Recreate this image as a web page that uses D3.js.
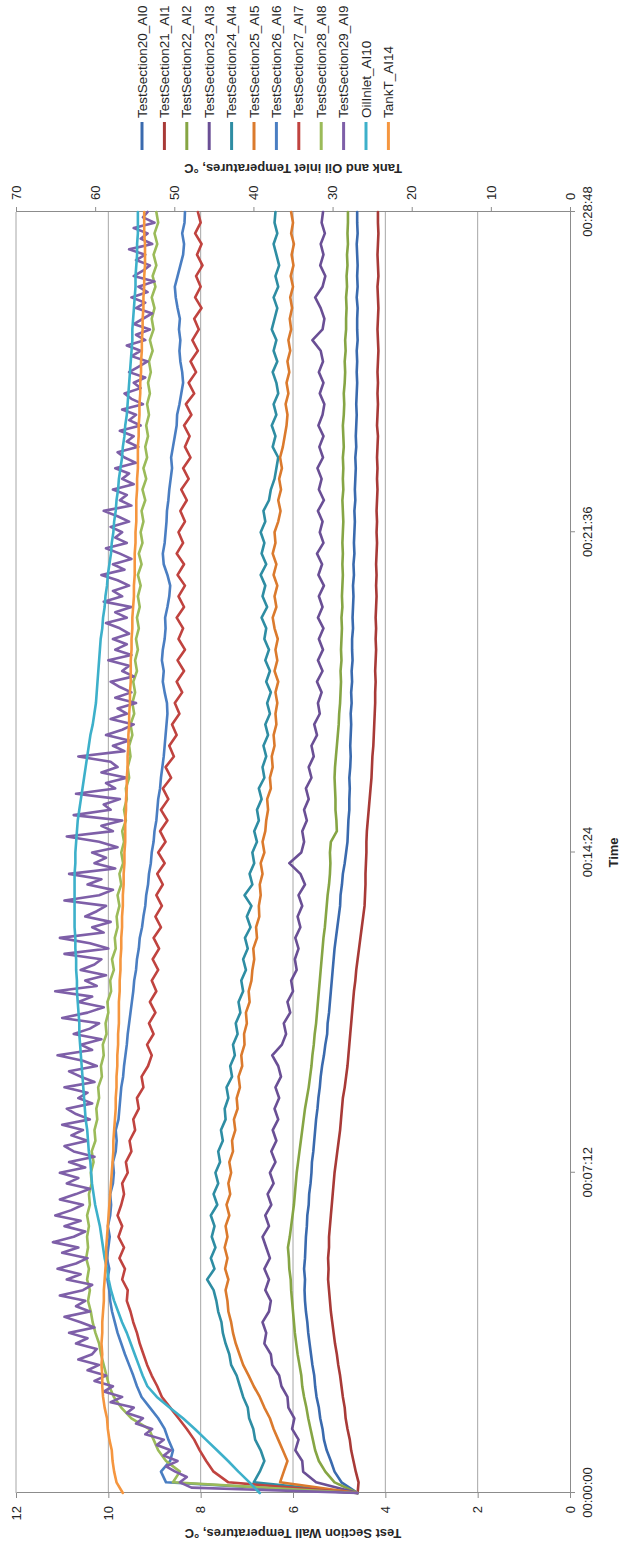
<!DOCTYPE html>
<html>
<head>
<meta charset="utf-8">
<script src="https://cdn.jsdelivr.net/npm/d3@7"></script>
<style>
  body { margin: 0; background: #fff; }
  svg { display: block; }
  text { font-family: "Liberation Sans", Arial, sans-serif; fill: #262626; }
</style>
</head>
<body>
<svg id="chart" width="626" height="1552"></svg>
<script>
// Most channels logged every 14.4 s; TestSection29 every 7.2 s. Run spans 00:00:00 - 00:28:48
const sampleStep = 14.4;
const sampleStepFine = 7.2;
const timeTicks = [0, 432, 864, 1296, 1728];
const timeTickLabels = ["00:00:00", "00:07:12", "00:14:24", "00:21:36", "00:28:48"];
const wallTicks = [0, 2, 4, 6, 8, 10, 12];
const tankTicks = [0, 10, 20, 30, 40, 50, 60, 70];

const seriesNames = ["TestSection20_AI0", "TestSection21_AI1", "TestSection22_AI2", "TestSection23_AI3",
  "TestSection24_AI4", "TestSection25_AI5", "TestSection26_AI6", "TestSection27_AI7",
  "TestSection28_AI8", "TestSection29_AI9", "OilInlet_AI10", "TankT_AI14"];
const seriesColors = ["#3A6AAE", "#A83A37", "#86A544", "#6A4F95", "#2E8DA3", "#DB7A2D",
  "#4A7EC2", "#C0433F", "#9BBB59", "#7E5FA8", "#3DB0CA", "#F5963F"];
// 0 = wall temperature axis, 1 = tank / oil inlet axis
const seriesAxis = [0, 0, 0, 0, 0, 0, 0, 0, 0, 0, 1, 1];
const seriesStep = [sampleStep, sampleStep, sampleStep, sampleStep, sampleStep, sampleStep,
  sampleStep, sampleStep, sampleStep, sampleStepFine, sampleStep, sampleStep];

const ts20_AI0 = [4.60,4.95,5.10,5.18,5.27,5.33,5.36,5.41,5.44,5.49,
  5.52,5.54,5.58,5.61,5.64,5.67,5.69,5.72,5.74,5.75,
  5.74,5.76,5.74,5.73,5.72,5.70,5.69,5.66,5.65,5.62,
  5.60,5.59,5.56,5.54,5.52,5.50,5.47,5.45,5.42,5.40,
  5.37,5.33,5.30,5.26,5.25,5.22,5.20,5.18,5.16,5.14,
  5.12,5.10,5.07,5.04,5.01,4.98,4.97,4.94,4.92,4.88,
  4.85,4.82,4.81,4.80,4.78,4.78,4.77,4.78,4.76,4.75,
  4.76,4.75,4.74,4.75,4.73,4.74,4.72,4.73,4.71,4.72,
  4.72,4.70,4.71,4.70,4.69,4.70,4.68,4.69,4.67,4.68,
  4.67,4.66,4.67,4.65,4.66,4.65,4.64,4.65,4.63,4.64,
  4.63,4.62,4.63,4.62,4.61,4.62,4.61,4.62,4.60,4.61,
  4.61,4.60,4.62,4.60,4.61,4.60,4.61,4.62,4.60,4.61,
  4.61];
const ts21_AI1 = [4.60,4.58,4.64,4.69,4.74,4.77,4.82,4.86,4.88,4.92,
  4.95,4.98,5.02,5.05,5.09,5.12,5.15,5.18,5.20,5.22,
  5.24,5.23,5.24,5.22,5.22,5.20,5.18,5.16,5.14,5.12,
  5.10,5.07,5.04,5.01,4.98,4.96,4.94,4.92,4.88,4.85,
  4.82,4.80,4.78,4.76,4.74,4.72,4.70,4.68,4.65,4.63,
  4.60,4.57,4.54,4.51,4.48,4.45,4.44,4.43,4.43,4.42,
  4.41,4.41,4.40,4.38,4.36,4.34,4.32,4.30,4.29,4.28,
  4.26,4.25,4.24,4.23,4.22,4.22,4.21,4.22,4.21,4.20,
  4.21,4.20,4.21,4.20,4.19,4.20,4.19,4.20,4.19,4.18,
  4.19,4.18,4.19,4.18,4.17,4.18,4.17,4.18,4.17,4.16,
  4.18,4.17,4.16,4.17,4.16,4.17,4.16,4.15,4.16,4.17,
  4.16,4.15,4.16,4.17,4.15,4.16,4.17,4.16,4.15,4.16,
  4.16];
const ts22_AI2 = [4.60,5.10,5.30,5.44,5.52,5.57,5.62,5.67,5.71,5.76,
  5.80,5.82,5.86,5.90,5.93,5.96,5.98,6.00,6.02,6.04,
  6.05,6.08,6.09,6.11,6.07,6.04,6.01,5.98,5.96,5.94,
  5.92,5.89,5.86,5.83,5.80,5.77,5.74,5.70,5.66,5.63,
  5.60,5.58,5.55,5.53,5.50,5.48,5.46,5.44,5.42,5.40,
  5.38,5.36,5.34,5.31,5.29,5.27,5.25,5.22,5.20,5.19,
  5.20,5.18,5.05,5.06,5.08,5.08,5.09,5.10,5.09,5.07,
  5.05,5.03,5.01,5.00,4.98,4.97,4.96,4.97,4.95,4.96,
  4.95,4.94,4.95,4.93,4.94,4.93,4.92,4.93,4.92,4.93,
  4.92,4.91,4.92,4.93,4.91,4.92,4.91,4.92,4.90,4.91,
  4.92,4.90,4.89,4.90,4.88,4.87,4.88,4.86,4.87,4.85,
  4.85,4.84,4.85,4.83,4.84,4.82,4.83,4.81,4.82,4.81,
  4.81];
const ts23_AI3 = [4.60,5.50,5.78,5.80,5.95,5.88,6.02,5.97,6.10,6.12,
  6.25,6.30,6.45,6.48,6.62,6.58,6.66,6.52,6.48,6.60,
  6.52,6.62,6.50,6.58,6.66,6.52,6.60,6.47,6.55,6.42,
  6.50,6.38,6.47,6.36,6.44,6.32,6.40,6.30,6.38,6.26,
  6.32,6.45,6.24,6.15,6.20,6.06,6.12,6.00,6.04,5.92,
  5.96,5.88,5.95,5.84,5.90,5.80,5.88,5.74,5.84,6.08,
  5.82,5.76,5.80,5.70,5.76,5.66,5.72,5.60,5.66,5.55,
  5.60,5.48,5.54,5.42,5.46,5.38,5.48,5.36,5.46,5.35,
  5.44,5.34,5.46,5.36,5.44,5.33,5.45,5.37,5.48,5.34,
  5.42,5.36,5.46,5.33,5.44,5.38,5.47,5.35,5.43,5.34,
  5.45,5.36,5.32,5.42,5.34,5.44,5.35,5.40,5.58,5.36,
  5.32,5.40,5.52,5.36,5.30,5.41,5.34,5.40,5.31,5.38,
  5.35];
const ts24_AI4 = [4.60,6.85,6.72,6.62,6.70,6.82,6.86,6.95,6.98,7.08,
  7.15,7.22,7.34,7.38,7.46,7.52,7.55,7.62,7.66,7.72,
  7.86,7.70,7.78,7.68,7.76,7.70,7.78,7.64,7.72,7.62,
  7.68,7.58,7.62,7.52,7.56,7.46,7.48,7.40,7.44,7.32,
  7.36,7.26,7.30,7.20,7.24,7.14,7.18,7.08,7.12,7.02,
  7.08,6.98,7.04,6.92,7.00,6.90,7.05,6.88,6.94,6.84,
  6.88,6.78,6.84,6.74,6.78,6.68,6.74,6.62,6.66,6.58,
  6.64,6.54,6.60,6.50,6.56,6.48,6.58,6.50,6.60,6.52,
  6.62,6.58,6.68,6.56,6.66,6.60,6.70,6.58,6.68,6.62,
  6.70,6.60,6.64,6.52,6.48,6.40,6.36,6.32,6.44,6.38,
  6.46,6.36,6.42,6.32,6.36,6.44,6.34,6.42,6.36,6.46,
  6.40,6.34,6.42,6.32,6.38,6.30,6.36,6.42,6.34,6.40,
  6.38];
const ts25_AI5 = [4.60,6.28,6.20,6.12,6.22,6.32,6.42,6.50,6.62,6.72,
  6.85,6.96,7.08,7.16,7.24,7.30,7.34,7.40,7.42,7.46,
  7.40,7.47,7.42,7.48,7.42,7.46,7.38,7.44,7.36,7.40,
  7.34,7.38,7.30,7.32,7.25,7.28,7.20,7.22,7.15,7.18,
  7.10,7.12,7.05,7.06,7.00,7.02,6.94,6.96,6.90,6.88,
  6.84,6.86,6.78,6.80,6.73,6.74,6.70,6.72,6.66,6.70,
  6.62,6.66,6.60,6.58,6.54,6.56,6.48,6.50,6.44,6.46,
  6.40,6.42,6.36,6.38,6.34,6.38,6.32,6.40,6.34,6.38,
  6.33,6.40,6.44,6.36,6.40,6.34,6.42,6.36,6.44,6.38,
  6.40,6.32,6.27,6.32,6.26,6.30,6.24,6.28,6.22,6.18,
  6.14,6.12,6.16,6.10,6.14,6.08,6.12,6.06,6.10,6.04,
  6.07,6.02,6.06,6.00,6.05,5.99,6.03,5.98,6.04,6.00,
  6.04];
const ts26_AI6 = [4.60,8.75,8.86,8.66,8.60,8.70,8.78,8.92,9.10,9.28,
  9.38,9.46,9.55,9.64,9.72,9.80,9.86,9.92,9.96,9.98,
  10.02,9.98,10.03,10.00,9.97,10.01,9.96,9.94,9.96,9.90,
  9.88,9.90,9.84,9.82,9.84,9.78,9.76,9.74,9.72,9.68,
  9.66,9.63,9.60,9.58,9.55,9.52,9.49,9.46,9.44,9.40,
  9.38,9.34,9.32,9.27,9.24,9.20,9.18,9.14,9.12,9.08,
  9.06,9.02,9.00,8.96,8.94,8.92,8.88,8.86,8.83,8.80,
  8.78,8.76,8.74,8.72,8.73,8.78,8.82,8.80,8.84,8.82,
  8.78,8.76,8.77,8.72,8.68,8.66,8.72,8.80,8.82,8.78,
  8.76,8.74,8.73,8.70,8.68,8.65,8.62,8.64,8.60,8.56,
  8.52,8.51,8.46,8.42,8.38,8.40,8.44,8.46,8.44,8.47,
  8.45,8.50,8.54,8.56,8.50,8.44,8.38,8.36,8.40,8.35,
  8.34];
const ts27_AI7 = [4.60,7.40,7.72,7.88,8.02,8.14,8.30,8.48,8.66,8.84,
  8.94,9.06,9.16,9.24,9.32,9.38,9.46,9.52,9.60,9.58,
  9.70,9.64,9.76,9.66,9.78,9.70,9.80,9.72,9.66,9.70,
  9.58,9.62,9.50,9.54,9.42,9.46,9.34,9.38,9.24,9.28,
  9.14,9.06,9.16,9.02,9.12,8.98,9.10,8.96,9.06,8.92,
  9.04,8.90,9.02,8.86,8.98,8.84,8.96,8.82,8.94,8.78,
  8.92,8.76,8.88,8.72,8.86,8.70,8.82,8.64,8.76,8.58,
  8.68,8.52,8.62,8.46,8.56,8.40,8.52,8.36,8.50,8.34,
  8.48,8.38,8.52,8.36,8.48,8.34,8.50,8.36,8.52,8.38,
  8.48,8.34,8.44,8.30,8.42,8.26,8.38,8.22,8.34,8.24,
  8.36,8.20,8.32,8.14,8.26,8.10,8.22,8.06,8.18,8.04,
  8.14,7.98,8.12,8.00,8.10,7.96,8.08,7.98,8.12,8.00,
  8.06];
const ts28_AI8 = [4.60,8.60,8.45,8.75,8.92,9.02,9.12,9.50,9.72,9.88,
  9.98,10.04,10.10,10.16,10.20,10.28,10.34,10.38,10.44,10.40,
  10.46,10.42,10.48,10.44,10.46,10.42,10.46,10.40,10.42,10.36,
  10.38,10.32,10.36,10.28,10.30,10.24,10.26,10.20,10.22,10.14,
  10.16,10.10,10.12,10.04,10.06,10.00,10.02,9.94,9.96,9.88,
  9.92,9.84,9.86,9.80,9.82,9.76,9.80,9.72,9.76,9.68,
  9.72,9.66,9.70,9.62,9.66,9.60,9.62,9.55,9.58,9.52,
  9.55,9.48,9.52,9.44,9.48,9.42,9.46,9.38,9.42,9.36,
  9.40,9.34,9.38,9.32,9.36,9.30,9.36,9.28,9.34,9.26,
  9.30,9.24,9.28,9.20,9.26,9.18,9.24,9.16,9.20,9.14,
  9.18,9.12,9.16,9.10,9.14,9.08,9.12,9.04,9.10,9.02,
  9.06,9.00,9.06,8.98,9.04,8.96,9.02,8.94,9.00,8.92,
  8.96];
// 7.2 s samples
const ts29_AI9 = [4.60,8.20,8.45,8.30,8.55,8.75,8.50,8.80,8.65,8.95,
  8.80,9.20,9.05,9.40,9.25,9.60,9.45,9.95,9.70,10.10,
  9.90,10.30,10.05,10.45,10.20,10.65,10.35,10.25,10.70,10.45,
  10.85,10.30,10.60,10.95,10.40,10.70,10.50,11.05,10.55,10.35,
  10.90,10.60,11.10,10.70,10.45,11.00,10.65,11.20,10.75,10.50,
  10.95,10.60,11.15,10.80,10.55,11.05,10.70,10.40,10.90,10.65,
  11.05,10.50,10.85,10.30,10.75,10.95,10.45,10.80,10.55,11.00,
  10.40,10.70,10.90,10.35,10.65,10.45,10.95,10.30,10.60,10.85,
  10.25,10.55,11.10,10.35,10.60,10.15,10.75,10.40,10.20,11.00,
  10.45,10.10,10.65,10.35,11.15,10.25,10.50,10.05,10.60,10.30,
  10.15,10.95,10.00,10.40,11.05,10.10,10.35,9.95,10.50,10.25,
  10.05,10.95,10.20,9.90,10.45,10.15,10.85,9.85,10.30,10.05,
  10.35,9.80,10.20,10.90,9.90,10.15,9.70,10.75,9.95,10.10,
  9.75,10.70,9.85,10.05,9.60,10.15,9.80,9.95,10.65,9.65,
  9.90,9.55,10.05,9.70,9.45,9.95,9.60,9.80,9.40,9.85,
  9.50,9.75,9.95,9.45,9.70,9.55,10.00,9.50,9.85,9.60,
  9.90,9.55,9.75,10.05,9.60,9.85,9.50,10.10,9.70,9.90,
  9.55,9.80,10.15,9.65,9.90,9.50,9.75,10.05,9.60,9.85,
  9.70,9.95,9.55,9.80,10.10,9.50,9.75,9.60,9.90,9.45,
  9.70,9.55,9.85,9.40,9.65,9.80,9.35,9.60,9.45,9.75,
  9.30,9.55,9.40,9.70,9.25,9.50,9.65,9.30,9.45,9.20,
  9.55,9.35,9.15,9.50,9.30,9.60,9.20,9.40,9.10,9.45,
  9.25,9.05,9.40,9.20,9.50,9.15,9.35,9.00,9.45,9.25,
  9.10,9.40,9.20,9.55,9.05,9.30,9.15,9.45,9.00,9.25,
  9.15];
const oilInlet_AI10 = [39.2,40.5,41.9,43.2,44.6,46.0,47.4,48.9,50.6,52.2,
  53.4,54.0,54.5,55.0,55.5,56.0,56.6,57.1,57.6,58.0,
  58.3,58.5,58.8,59.0,59.2,59.4,59.7,60.0,60.2,60.4,
  60.5,60.6,60.8,60.9,61.0,61.2,61.3,61.4,61.5,61.6,
  61.7,61.8,61.9,62.0,62.0,62.1,62.2,62.3,62.3,62.4,
  62.4,62.5,62.5,62.6,62.6,62.6,62.6,62.6,62.6,62.5,
  62.5,62.4,62.3,62.2,62.0,61.8,61.6,61.4,61.2,61.0,
  60.8,60.6,60.3,60.1,59.9,59.8,59.7,59.6,59.5,59.4,
  59.3,59.1,59.0,58.8,58.7,58.5,58.4,58.2,58.0,57.9,
  57.7,57.6,57.4,57.3,57.1,57.0,56.8,56.6,56.5,56.3,
  56.2,56.0,55.9,55.8,55.7,55.6,55.5,55.4,55.3,55.3,
  55.2,55.1,55.0,54.9,54.9,54.8,54.7,54.7,54.6,54.6,
  54.6];
const tankT_AI14 = [56.5,57.3,57.6,57.8,57.9,58.2,58.4,58.5,58.8,59.0,
  59.1,59.1,59.2,59.1,59.2,59.1,59.1,59.0,58.9,58.9,
  58.8,58.7,58.6,58.6,58.5,58.4,58.3,58.2,58.1,58.0,
  57.9,57.8,57.7,57.7,57.6,57.5,57.4,57.4,57.3,57.3,
  57.2,57.2,57.1,57.1,57.0,57.0,57.0,56.9,56.9,56.8,
  56.8,56.7,56.7,56.6,56.6,56.5,56.5,56.4,56.4,56.3,
  56.3,56.2,56.2,56.2,56.1,56.1,56.0,56.0,55.9,55.9,
  55.8,55.8,55.7,55.7,55.6,55.6,55.5,55.5,55.5,55.4,
  55.4,55.3,55.3,55.2,55.1,55.1,55.0,55.0,55.0,54.9,
  54.9,54.8,54.8,54.8,54.7,54.7,54.6,54.6,54.6,54.5,
  54.5,54.4,54.4,54.3,54.3,54.2,54.2,54.1,54.1,54.0,
  54.0,53.9,53.9,53.8,53.8,53.7,53.7,53.7,53.8,53.8,
  53.8];

const seriesValues = [ts20_AI0, ts21_AI1, ts22_AI2, ts23_AI3, ts24_AI4, ts25_AI5,
  ts26_AI6, ts27_AI7, ts28_AI8, ts29_AI9, oilInlet_AI10, tankT_AI14];

// The whole chart is laid out on its side: time runs bottom-to-top of the page.
const plotLeft = 16, plotBottom = 1493;
const W = 1281;   // length of the time axis
const H = 554;    // length of the temperature axes

const svg = d3.select("#chart");
const g = svg.append("g")
  .attr("transform", `translate(${plotLeft},${plotBottom}) rotate(-90)`);

const x = d3.scaleLinear().domain([0, 1728]).range([0, W]);
const yWall = d3.scaleLinear().domain([0, 12]).range([H, 0]);
const yTank = d3.scaleLinear().domain([0, 70]).range([H, 0]);

// horizontal gridlines from the wall-temperature axis
g.append("g").selectAll("line")
  .data(wallTicks.filter(d => d > 0))
  .join("line")
  .attr("x1", 0).attr("x2", W)
  .attr("y1", d => yWall(d)).attr("y2", d => yWall(d))
  .attr("stroke", "#a6a6a6").attr("stroke-width", 1);

function styleAxis(sel) {
  sel.selectAll("path, line").attr("stroke", "#8c8c8c").attr("stroke-width", 1);
  sel.selectAll("text").attr("font-size", 13).attr("fill", "#333")
    .style("font-family", '"Liberation Sans", Arial, sans-serif');
}

g.append("g")
  .call(d3.axisLeft(yWall).tickValues(wallTicks).tickFormat(d3.format("d"))
    .tickSize(5).tickSizeOuter(0).tickPadding(8))
  .call(styleAxis);

g.append("g")
  .attr("transform", `translate(${W},0)`)
  .call(d3.axisRight(yTank).tickValues(tankTicks).tickFormat(d3.format("d"))
    .tickSize(5).tickSizeOuter(0).tickPadding(7))
  .call(styleAxis);

g.append("g")
  .attr("transform", `translate(0,${H})`)
  .call(d3.axisBottom(x).tickValues(timeTicks).tickFormat((d, i) => timeTickLabels[i])
    .tickSize(5).tickSizeOuter(0).tickPadding(8))
  .call(styleAxis);

// series
g.append("g").attr("fill", "none")
  .selectAll("path")
  .data(seriesValues)
  .join("path")
  .attr("d", (d, k) => {
    const yS = seriesAxis[k] === 0 ? yWall : yTank;
    return d3.line().x((v, i) => x(i * seriesStep[k])).y(v => yS(v))(d);
  })
  .attr("stroke", (d, i) => seriesColors[i])
  .attr("stroke-width", 2.6)
  .attr("stroke-linejoin", "round")
  .attr("stroke-linecap", "round");

// axis titles
g.append("text")
  .attr("transform", `translate(-40,${H / 2}) rotate(-90)`)
  .attr("text-anchor", "middle").attr("dominant-baseline", "central")
  .attr("font-size", 13).attr("font-weight", "bold")
  .text("Test Section Wall Temperatures, °C");

g.append("text")
  .attr("transform", `translate(${W + 44},${H / 2}) rotate(-90)`)
  .attr("text-anchor", "middle").attr("dominant-baseline", "central")
  .attr("font-size", 13).attr("font-weight", "bold")
  .text("Tank and Oil inlet Temperatures, °C");

g.append("text")
  .attr("x", W / 2).attr("y", H + 43)
  .attr("text-anchor", "middle").attr("dominant-baseline", "central")
  .attr("font-size", 13).attr("font-weight", "bold")
  .text("Time");

// legend
const legendX = W + 62, legendY = 126, legendGap = 22.4;
const legend = g.append("g").selectAll("g")
  .data(seriesNames)
  .join("g")
  .attr("transform", (d, i) => `translate(${legendX},${legendY + i * legendGap})`);
legend.append("line")
  .attr("x1", 0).attr("x2", 28)
  .attr("stroke", (d, i) => seriesColors[i]).attr("stroke-width", 3);
legend.append("text")
  .attr("x", 32).attr("dominant-baseline", "central")
  .attr("font-size", 13.5)
  .text(d => d);
</script>
</body>
</html>
